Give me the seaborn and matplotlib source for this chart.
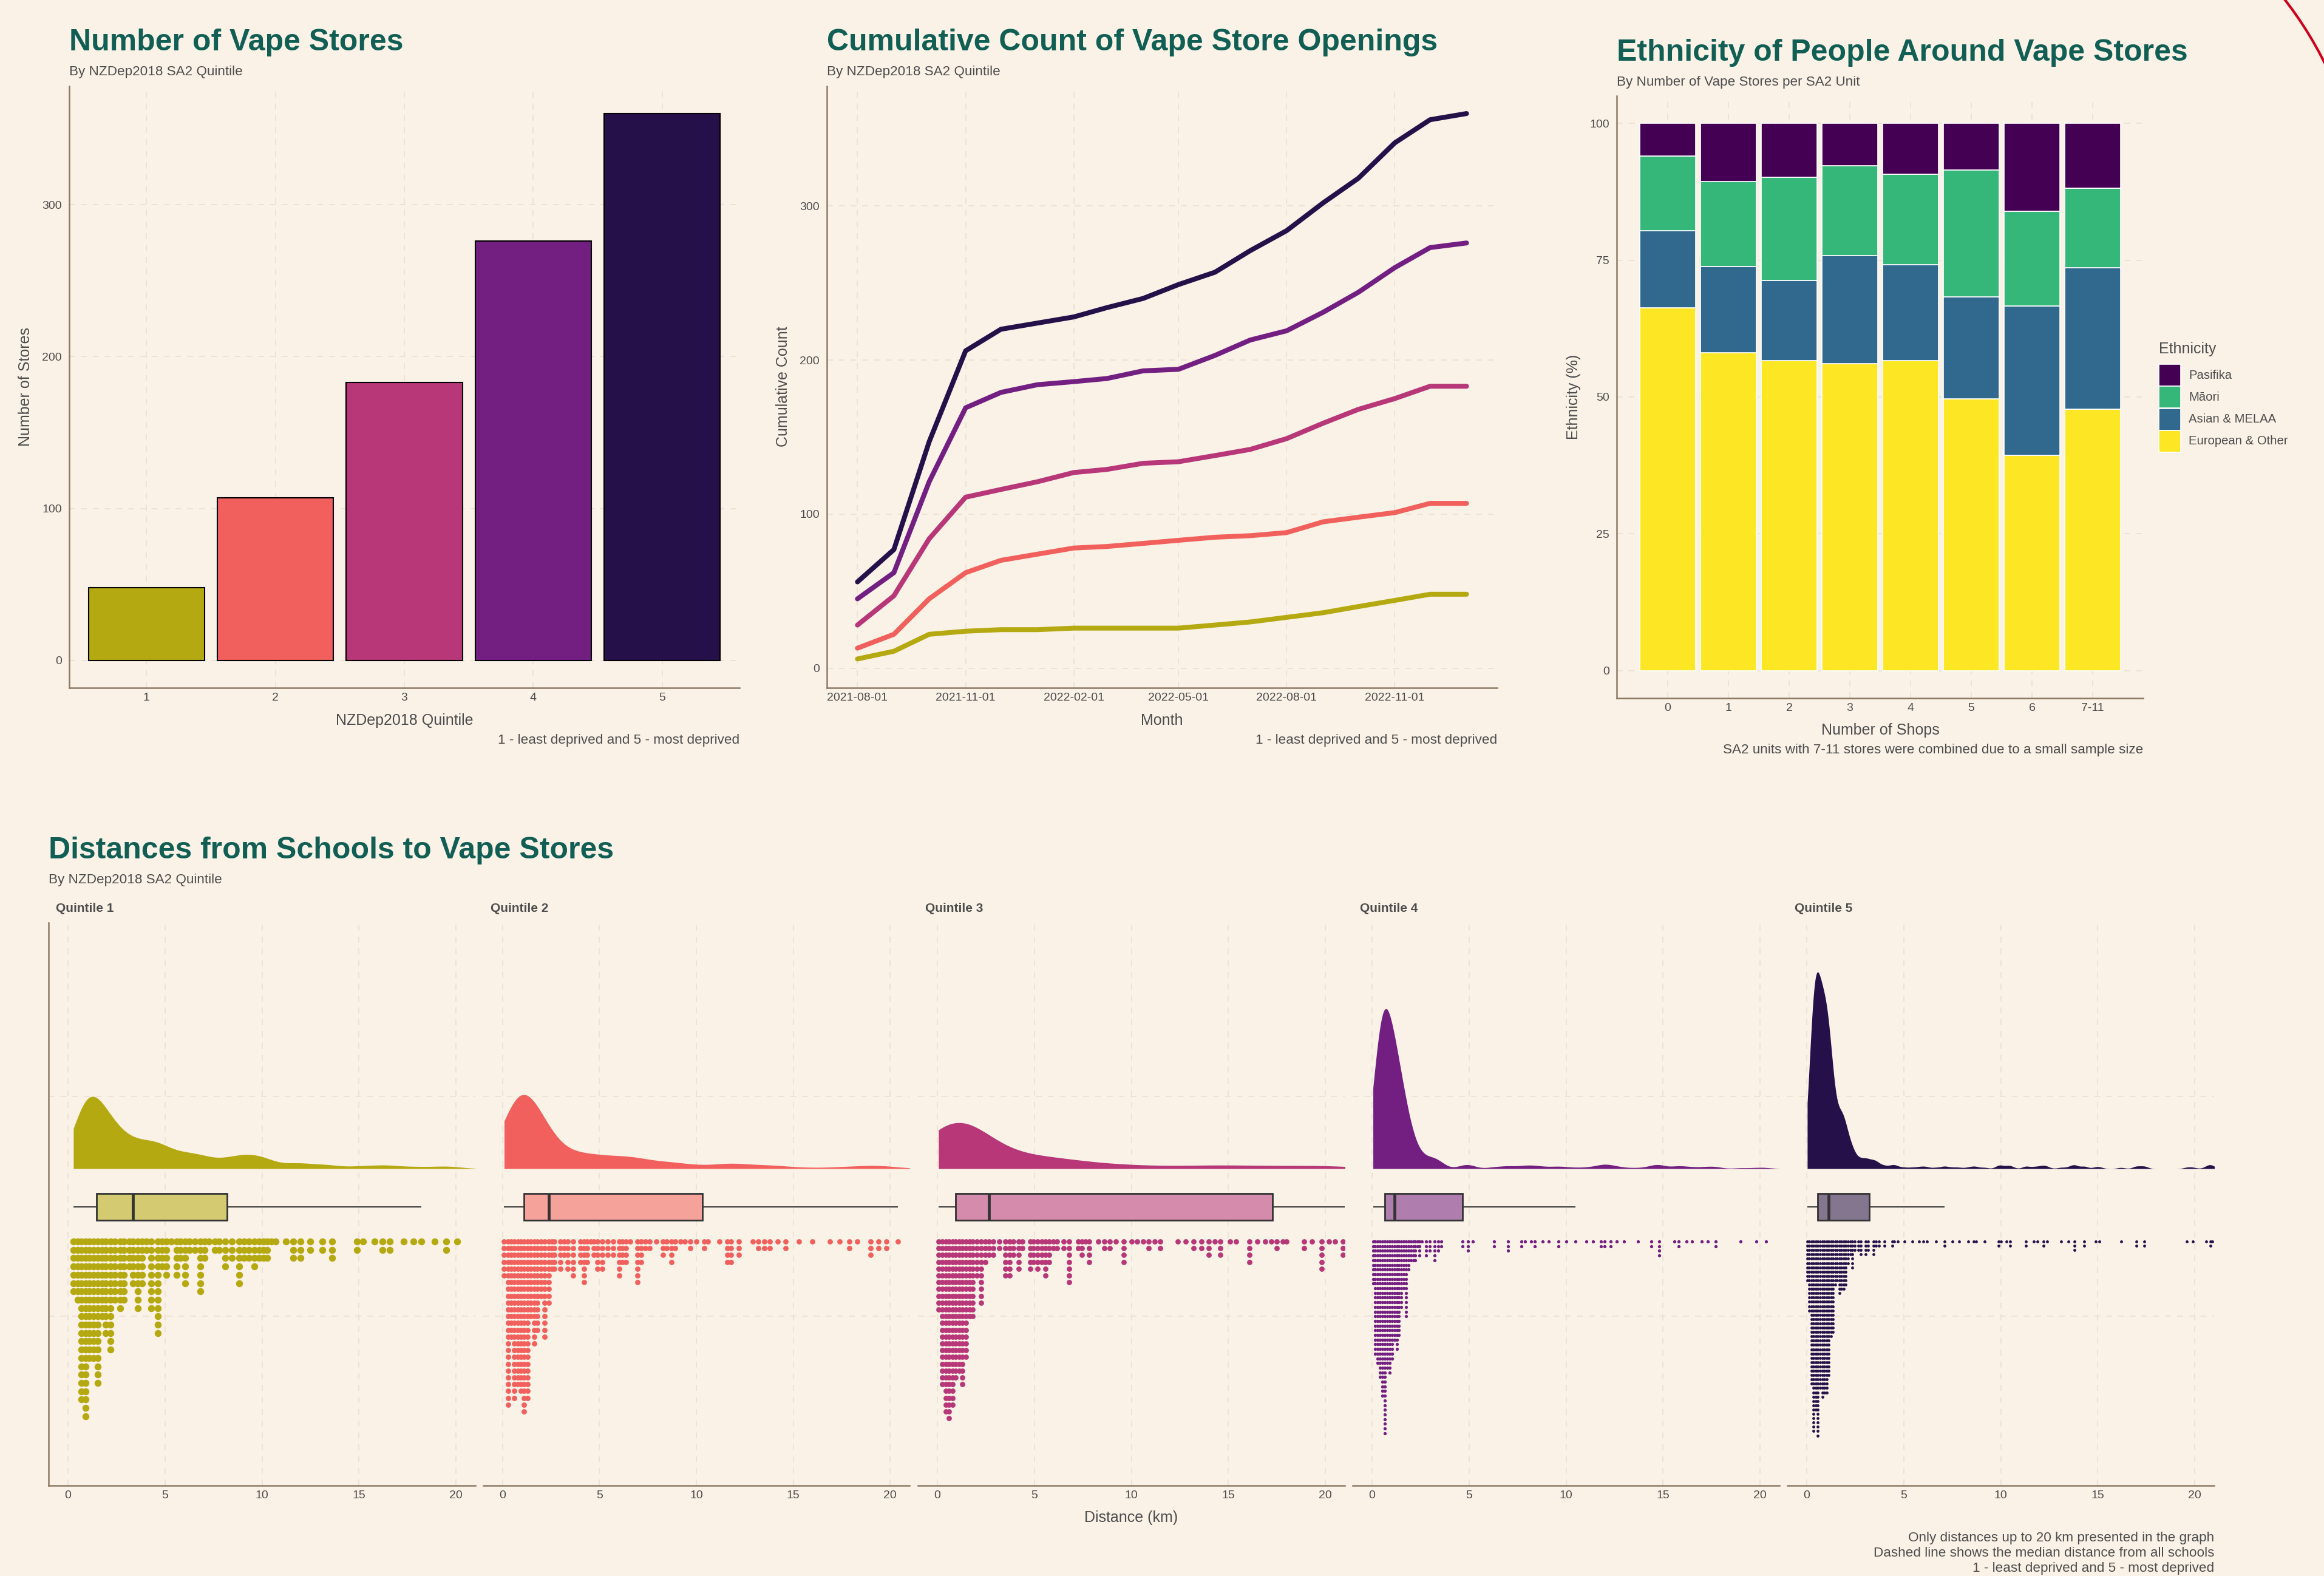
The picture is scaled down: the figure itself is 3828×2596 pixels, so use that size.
import numpy as np
import pandas as pd
import matplotlib
matplotlib.use("Agg")
import matplotlib.pyplot as plt
import matplotlib.dates as mdates
from matplotlib.patches import Arc, Rectangle
from matplotlib.transforms import IdentityTransform
from matplotlib.colors import to_rgb
import seaborn as sns

W, H, DPI = 3828, 2596, 200

BG = "#FAF2E7"
TITLE_C = "#115E54"
TEXT_C = "#4D4D4D"
SPINE_C = "#8C7A64"
GRID_C = "#ECE2D6"
Q_COLORS = ["#B5A912", "#F1605D", "#B73779", "#721F81", "#251049"]
ETH_COLORS = {"Pasifika": "#440154", "Māori": "#35B779",
              "Asian & MELAA": "#31688E", "European & Other": "#FDE725"}

# ---- number of vape stores per quintile
quintiles = ["1", "2", "3", "4", "5"]
store_counts = [48, 107, 183, 276, 360]

# ---- cumulative openings, monthly Aug 2021 - Jan 2023
months = pd.date_range("2021-08-01", periods=18, freq="MS")
cum_q1 = [6, 11, 22, 24, 25, 25, 26, 26, 26, 26, 28, 30, 33, 36, 40, 44, 48, 48]
cum_q2 = [13, 22, 45, 62, 70, 74, 78, 79, 81, 83, 85, 86, 88, 95, 98, 101, 107, 107]
cum_q3 = [28, 47, 84, 111, 116, 121, 127, 129, 133, 134, 138, 142, 149, 159, 168, 175, 183, 183]
cum_q4 = [45, 62, 121, 169, 179, 184, 186, 188, 193, 194, 203, 213, 219, 231, 244, 260, 273, 276]
cum_q5 = [56, 77, 147, 206, 220, 224, 228, 234, 240, 249, 257, 271, 284, 302, 318, 341, 356, 360]
date_ticks = ["2021-08-01", "2021-11-01", "2022-02-01", "2022-05-01", "2022-08-01", "2022-11-01"]

# ---- ethnicity (%) by number of shops in the SA2
shop_groups = ["0", "1", "2", "3", "4", "5", "6", "7-11"]
pct_european = [66.3, 58.1, 56.6, 56.1, 56.6, 49.7, 39.3, 47.8]
pct_asian = [14.1, 15.7, 14.7, 19.7, 17.6, 18.6, 27.3, 25.8]
pct_maori = [13.6, 15.6, 18.8, 16.4, 16.5, 23.2, 17.3, 14.5]
pct_pasifika = [6.0, 10.6, 9.9, 7.8, 9.3, 8.5, 16.1, 11.9]

# ---- school distances (km): dot column positions and number of schools in each
q1_km = [0.28, 0.49, 0.70, 0.91, 1.11, 1.32, 1.53, 1.74, 1.95, 2.19, 2.40, 2.68, 2.89, 3.15, 3.35,
         3.59, 3.82, 4.03, 4.29, 4.64, 4.86, 5.07, 5.33, 5.59, 5.80, 6.03, 6.27, 6.53, 6.81, 7.05,
         7.26, 7.57, 7.78, 8.11, 8.46, 8.82, 9.08, 9.34, 9.60, 9.86, 10.07, 10.28, 10.49, 10.70,
         11.24, 11.60, 12.00, 12.50, 13.10, 13.60, 14.90, 15.20, 15.80, 16.20, 16.60, 17.30, 17.80,
         18.20, 18.90, 19.50, 20.05]
q1_n = [7, 8, 20, 22, 15, 15, 18, 10, 12, 14, 8, 9, 8, 4, 6, 9, 6, 2, 9, 12, 4, 5, 1, 5, 3, 6, 2,
        2, 7, 3, 1, 2, 2, 4, 3, 6, 3, 3, 4, 3, 3, 3, 1, 1, 1, 3, 3, 2, 2, 3, 2, 1, 1, 2, 2, 1, 1,
        1, 1, 2, 1]
q2_km = [0.08, 0.27, 0.43, 0.60, 0.78, 0.94, 1.11, 1.28, 1.45, 1.62, 1.80, 1.98, 2.18, 2.37, 2.53,
         2.68, 2.97, 3.18, 3.36, 3.64, 4.01, 4.19, 4.35, 4.54, 4.71, 4.90, 5.15, 5.43, 5.72, 6.02,
         6.19, 6.38, 6.59, 6.97, 7.16, 7.37, 7.58, 7.94, 8.29, 8.46, 8.72, 8.90, 9.20, 9.40, 9.70,
         10.00, 10.40, 10.60, 11.20, 11.60, 11.80, 12.20, 12.90, 13.20, 13.50, 13.80, 14.20, 14.60,
         15.30, 16.00, 16.90, 17.40, 17.90, 18.30, 19.00, 19.40, 19.80, 20.40]
q2_n = [6, 25, 15, 24, 22, 23, 26, 24, 12, 16, 14, 9, 15, 10, 5, 5, 5, 3, 5, 6, 4, 7, 4, 1, 3, 5,
        5, 3, 3, 6, 4, 4, 1, 7, 4, 2, 2, 1, 3, 2, 4, 2, 1, 1, 2, 1, 2, 1, 1, 4, 4, 3, 1, 2, 2, 2,
        1, 2, 1, 1, 1, 1, 2, 1, 3, 2, 2, 1]
q3_km = [0.06, 0.25, 0.43, 0.60, 0.77, 0.95, 1.13, 1.29, 1.47, 1.65, 1.81, 2.04, 2.25, 2.46, 2.67,
         2.88, 3.19, 3.50, 3.71, 3.92, 4.18, 4.39, 4.80, 4.96, 5.17, 5.38, 5.58, 5.77, 5.98, 6.16,
         6.52, 6.78, 7.25, 7.46, 7.65, 7.82, 8.30, 8.60, 8.90, 9.20, 9.60, 10.00, 10.30, 10.60,
         10.90, 11.20, 11.50, 12.40, 12.80, 13.20, 13.60, 14.00, 14.30, 14.60, 15.10, 15.40, 16.10,
         16.50, 16.90, 17.20, 17.50, 17.80, 18.00, 18.90, 19.30, 19.80, 20.20, 20.50, 20.90]
q3_n = [11, 22, 26, 27, 25, 21, 20, 22, 18, 12, 12, 6, 10, 4, 3, 3, 2, 6, 6, 3, 5, 2, 5, 4, 5, 4,
        6, 4, 2, 2, 2, 7, 2, 3, 1, 4, 1, 2, 2, 1, 4, 1, 1, 1, 2, 1, 2, 1, 1, 2, 2, 3, 1, 3, 1, 1,
        4, 1, 1, 1, 2, 1, 1, 2, 1, 5, 1, 1, 3]
q4_km = [0.05, 0.17, 0.29, 0.41, 0.54, 0.65, 0.78, 0.90, 1.02, 1.15, 1.27, 1.39, 1.51, 1.64, 1.75,
         1.88, 2.00, 2.12, 2.22, 2.35, 2.45, 2.58, 2.79, 2.98, 3.21, 3.42, 3.58, 4.67, 4.94, 5.20,
         6.30, 7.00, 7.70, 7.90, 8.20, 8.40, 8.80, 9.10, 9.60, 10.00, 10.50, 11.06, 11.40, 11.80,
         12.00, 12.30, 12.60, 13.00, 13.70, 14.40, 14.80, 15.60, 15.80, 16.20, 16.50, 17.00, 17.30,
         17.70, 19.00, 19.80, 20.30]
q4_n = [10, 25, 27, 30, 34, 42, 28, 29, 26, 22, 24, 21, 15, 11, 17, 7, 5, 5, 5, 2, 4, 1, 4, 3, 5,
        3, 2, 2, 3, 1, 2, 3, 2, 1, 1, 2, 1, 1, 2, 1, 1, 1, 1, 2, 2, 2, 1, 1, 1, 2, 4, 1, 2, 1, 1,
        1, 1, 2, 1, 1, 1]
q5_km = [0.03, 0.14, 0.25, 0.36, 0.47, 0.58, 0.69, 0.80, 0.92, 1.02, 1.14, 1.24, 1.35, 1.46, 1.57,
         1.69, 1.79, 1.91, 2.01, 2.13, 2.24, 2.35, 2.46, 2.66, 2.80, 3.05, 3.16, 3.43, 3.56, 3.73,
         4.02, 4.41, 4.51, 4.70, 5.04, 5.44, 5.78, 6.00, 6.20, 6.67, 7.10, 7.50, 7.85, 8.33, 8.60,
         8.74, 9.17, 9.90, 10.00, 10.30, 10.50, 11.30, 11.70, 11.90, 12.20, 12.40, 13.10, 13.50,
         13.80, 14.30, 14.90, 15.10, 16.20, 17.00, 17.40, 19.60, 19.90, 20.60, 20.80, 20.90]
q5_n = [10, 17, 34, 45, 40, 46, 35, 37, 36, 36, 32, 23, 22, 11, 10, 13, 12, 12, 11, 6, 4, 7, 3, 3,
        4, 4, 3, 4, 2, 2, 2, 2, 1, 1, 1, 1, 1, 1, 1, 1, 2, 1, 1, 1, 1, 1, 1, 2, 1, 1, 2, 2, 1, 1,
        2, 1, 1, 1, 3, 2, 1, 1, 1, 2, 2, 1, 1, 1, 2, 1]
# schools further than the 20 km window (not drawn, but part of box/density stats)
far_counts = [28, 78, 102, 86, 111]
FAR_KM = 30.0

# ---- style / layout (full-size pixels)
BW_KM = [0.65, 0.85, 1.6, 0.38, 0.2]
DOT_ROW = [13.7, 11.2, 11.2, 7.7, 7.1]
DOT_D = [11.5, 8.8, 8.8, 5.3, 4.8]
PANELS = [(80, 783), (796, 1498), (1512, 2215), (2228, 2931), (2944, 3647)]
PANEL_TOP, PANEL_BOT = 1520, 2447
GRID_HI, GRID_LO = 1806, 2168
DENS_BASE, BOX_C, DOT_TOP = 1925, 1988, 2045
DENS_FILL = 0.8

sns.set_theme(style="white")
plt.rcParams["font.family"] = ["Liberation Sans", "DejaVu Sans"]

fig = plt.figure(figsize=(W / DPI, H / DPI), dpi=DPI, facecolor=BG)


def add_ax(x0, y0, x1, y1):
    ax = fig.add_axes([x0 / W, 1 - y1 / H, (x1 - x0) / W, (y1 - y0) / H])
    ax.set_facecolor("none")
    return ax


def put(x, y, s, size, color=TEXT_C, **kw):
    fig.text(x / W, 1 - y / H, s, fontsize=size, color=color, **kw)


def frame(ax, left=True):
    for side in ("top", "right"):
        ax.spines[side].set_visible(False)
    ax.spines["left"].set_visible(left)
    for side in ("left", "bottom"):
        ax.spines[side].set_color(SPINE_C)
        ax.spines[side].set_linewidth(0.9)
    ax.grid(True, color=GRID_C, linestyle=(0, (5, 5)), linewidth=0.7)
    ax.set_axisbelow(True)
    ax.tick_params(length=0, labelsize=7, labelcolor=TEXT_C)
    ax.tick_params(axis="x", pad=3.0)
    ax.tick_params(axis="y", pad=4.3)
    ax.set_xlabel("")
    ax.set_ylabel("")


def heading(x, y, title, subtitle):
    put(x, y, title, 18, color=TITLE_C, fontweight="bold", va="baseline")
    put(x, y + 41, subtitle, 8.1, va="baseline")


def blend(c, a=0.55):
    c, b = np.array(to_rgb(c)), np.array(to_rgb(BG))
    return tuple(a * c + (1 - a) * b)


# -------- Number of Vape Stores
ax1 = add_ax(114, 142, 1218, 1133)
df_stores = pd.DataFrame({"quintile": quintiles, "stores": store_counts})
sns.barplot(data=df_stores, x="quintile", y="stores", hue="quintile", palette=Q_COLORS,
            saturation=1, width=0.9, edgecolor="black", linewidth=0.75, errorbar=None,
            legend=False, ax=ax1)
ax1.set_xlim(-0.6, 4.6)
ax1.set_ylim(-18, 378)
ax1.set_yticks([0, 100, 200, 300])
frame(ax1)
heading(114, 83, "Number of Vape Stores", "By NZDep2018 SA2 Quintile")
put(42, 637, "Number of Stores", 9, rotation=90, ha="center", va="center")
put(666, 1187, "NZDep2018 Quintile", 9, ha="center", va="center")
put(1218, 1220, "1 - least deprived and 5 - most deprived", 8.1, ha="right", va="center")

# -------- Cumulative openings
ax2 = add_ax(1362, 142, 2466, 1133)
df_cum = pd.DataFrame({"month": months, "1": cum_q1, "2": cum_q2, "3": cum_q3,
                       "4": cum_q4, "5": cum_q5})
df_cum = df_cum.melt(id_vars="month", var_name="quintile", value_name="count")
sns.lineplot(data=df_cum, x="month", y="count", hue="quintile", hue_order=quintiles,
             palette=Q_COLORS, linewidth=2.9, legend=False, ax=ax2)
pad = pd.Timedelta(days=26)
ax2.set_xlim(mdates.date2num(months[0] - pad), mdates.date2num(months[-1] + pad))
tick_dates = pd.to_datetime(date_ticks)
ax2.set_xticks(mdates.date2num(tick_dates))
ax2.set_xticklabels(date_ticks)
ax2.set_ylim(-12.75, 377.75)
ax2.set_yticks([0, 100, 200, 300])
frame(ax2)
heading(1362, 83, "Cumulative Count of Vape Store Openings", "By NZDep2018 SA2 Quintile")
put(1290, 637, "Cumulative Count", 9, rotation=90, ha="center", va="center")
put(1914, 1187, "Month", 9, ha="center", va="center")
put(2466, 1220, "1 - least deprived and 5 - most deprived", 8.1, ha="right", va="center")

# -------- Ethnicity stacked bars
ax3 = add_ax(2663, 158, 3530, 1150)
df_eth = pd.DataFrame({"shops": shop_groups, "European & Other": pct_european,
                       "Asian & MELAA": pct_asian, "Māori": pct_maori, "Pasifika": pct_pasifika})
xpos = np.arange(len(shop_groups))
base = np.zeros(len(shop_groups))
for eth in ["European & Other", "Asian & MELAA", "Māori", "Pasifika"]:
    ax3.bar(xpos, df_eth[eth], bottom=base, width=0.92, color=ETH_COLORS[eth],
            edgecolor="white", linewidth=0.6)
    base += df_eth[eth].to_numpy()
ax3.set_xticks(xpos)
ax3.set_xticklabels(shop_groups)
ax3.set_xlim(-0.84, 7.83)
ax3.set_ylim(-5, 105)
ax3.set_yticks([0, 25, 50, 75, 100])
frame(ax3)
heading(2663, 100, "Ethnicity of People Around Vape Stores", "By Number of Vape Stores per SA2 Unit")
put(2592, 654, "Ethnicity (%)", 9, rotation=90, ha="center", va="center")
put(3097, 1203, "Number of Shops", 9, ha="center", va="center")
put(3530, 1236, "SA2 units with 7-11 stores were combined due to a small sample size", 8.1,
    ha="right", va="center")

# legend
put(3556, 575, "Ethnicity", 9, va="center")
for k, eth in enumerate(["Pasifika", "Māori", "Asian & MELAA", "European & Other"]):
    top = 600 + 36.3 * k
    fig.add_artist(Rectangle((3556 / W, 1 - (top + 36) / H), 36 / W, 36 / H,
                             facecolor=ETH_COLORS[eth], edgecolor="white", linewidth=0.6,
                             transform=fig.transFigure))
    put(3605, top + 18, eth, 7.3, va="center")

# -------- Distances raincloud
heading(80, 1414, "Distances from Schools to Vape Stores", "By NZDep2018 SA2 Quintile")
dist_km = [q1_km, q2_km, q3_km, q4_km, q5_km]
dist_n = [q1_n, q2_n, q3_n, q4_n, q5_n]

dens_axes, peaks = [], []
for i in range(5):
    x0, x1 = PANELS[i]
    col = Q_COLORS[i]
    km, n = np.array(dist_km[i]), np.array(dist_n[i])
    values = np.concatenate([np.repeat(km, n), np.full(far_counts[i], FAR_KM)])

    bg = add_ax(x0, PANEL_TOP, x1, PANEL_BOT)
    bg.set_xlim(-1, 21)
    bg.set_ylim(PANEL_BOT, PANEL_TOP)
    bg.set_xticks([0, 5, 10, 15, 20])
    bg.set_yticks([GRID_HI, GRID_LO])
    bg.set_yticklabels([])
    frame(bg, left=(i == 0))
    put(x0 + 12, 1497, f"Quintile {i + 1}", 7.5, fontweight="bold", va="center")

    # half density
    axk = add_ax(x0, PANEL_TOP, x1, DENS_BASE)
    sns.kdeplot(x=values, fill=True, color=col, alpha=1, linewidth=0, cut=0, clip=(0, 21.5),
                bw_method=BW_KM[i] / values.std(ddof=1), gridsize=1500, ax=axk)
    peaks.append(axk.collections[0].get_paths()[0].vertices[:, 1].max())
    axk.set_xlim(-1, 21)
    axk.set_axis_off()
    dens_axes.append(axk)

    # boxplot
    axb = add_ax(x0, BOX_C - 27.5, x1, BOX_C + 27.5)
    sns.boxplot(x=values, color=blend(col), linecolor="#333333", linewidth=0.7, width=0.8,
                showfliers=False, showcaps=False, saturation=1,
                medianprops={"linewidth": 1.7}, boxprops={"linewidth": 1.0}, ax=axb)
    axb.set_xlim(-1, 21)
    axb.set_ylim(0.5, -0.5)
    axb.set_axis_off()

    # stacked dots
    r = DOT_ROW[i]
    axd = add_ax(x0, DOT_TOP - r / 2, x1, PANEL_BOT)
    hpx = PANEL_BOT - (DOT_TOP - r / 2)
    xs = np.repeat(km, n)
    ys = -np.concatenate([np.arange(k) for k in n])
    sns.scatterplot(x=xs, y=ys, color=col, s=(DOT_D[i] * 72 / DPI) ** 2, linewidth=0,
                    legend=False, ax=axd)
    axd.set_xlim(-1, 21)
    axd.set_ylim(0.5 - hpx / r, 0.5)
    axd.set_axis_off()

dens_top = max(peaks) / DENS_FILL
for axk in dens_axes:
    axk.set_ylim(0, dens_top)

put(1863, 2500, "Distance (km)", 9, ha="center", va="center")
put(3647, 2534, "Only distances up to 20 km presented in the graph", 8.1, ha="right", va="center")
put(3647, 2558, "Dashed line shows the median distance from all schools", 8.1, ha="right", va="center")
put(3647, 2583, "1 - least deprived and 5 - most deprived", 8.1, ha="right", va="center")

# red arc in the top right corner
fig.add_artist(Arc((3274, H - 380), 1240, 1240, theta1=18, theta2=48, color="#D0021B",
                   linewidth=1.5, transform=IdentityTransform()))

fig.savefig("out.png", dpi=DPI, facecolor=BG)
